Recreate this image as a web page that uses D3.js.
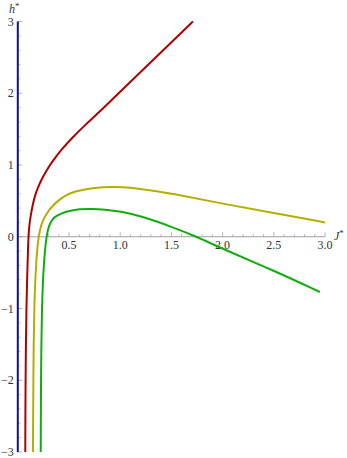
<!DOCTYPE html>
<html><head><meta charset="utf-8">
<script src="https://cdn.jsdelivr.net/npm/d3@7/dist/d3.min.js"></script>
<style>html,body{margin:0;padding:0;background:#fff}svg{display:block}</style>
</head><body><svg id="c" width="347" height="458"></svg>
<script>
// data
const redJ = [0.073,0.074,0.076,0.079,0.084,0.090,0.096,0.102,0.111,0.125,0.145,0.168,0.20,0.24,0.282,0.347,0.43,0.51,0.673,0.835,1.063,1.26,1.50,1.71];
const redH = [-3,-2.5,-2,-1.5,-1,-0.65,-0.35,-0.05,0.15,0.29,0.44,0.58,0.70,0.82,0.93,1.07,1.22,1.35,1.58,1.79,2.11,2.38,2.71,3.0];
const yelJ = [0.148,0.150,0.152,0.155,0.161,0.169,0.180,0.195,0.215,0.245,0.28,0.33,0.40,0.47,0.55,0.72,0.95,1.2,1.52,2.0,2.5,3.0];
const yelH = [-3,-2.5,-2,-1.5,-1,-0.65,-0.35,-0.08,0.10,0.23,0.32,0.42,0.51,0.58,0.63,0.68,0.70,0.67,0.60,0.46,0.33,0.20];
const grnJ = [0.224,0.225,0.227,0.230,0.236,0.244,0.256,0.272,0.292,0.32,0.36,0.43,0.50,0.60,0.72,0.85,1.0,1.2,1.52,1.75,2.0,2.5,2.95];
const grnH = [-3,-2.5,-2,-1.5,-1,-0.65,-0.35,-0.08,0.10,0.21,0.28,0.33,0.36,0.385,0.39,0.38,0.355,0.29,0.13,0,-0.17,-0.47,-0.77];
const xTicks = [0.5,1.0,1.5,2.0,2.5,3.0];
const xTickLabels = ["0.5","1.0","1.5","2.0","2.5","3.0"];
const yTicks = [-3,-2,-1,0,1,2,3];
const yTickLabels = ["\u22123","\u22122","\u22121","0","1","2","3"];
const series = [
  {J: redJ, H: redH, color: "#b00000"},
  {J: yelJ, H: yelH, color: "#b5ae00"},
  {J: grnJ, H: grnH, color: "#10ad10"}
];

const FONT = "Liberation Serif";
const svg = d3.select("#c");
const x = d3.scaleLinear().domain([0,3]).range([17.8,325]);
const y = d3.scaleLinear().domain([-3,3]).range([452,21.5]);

// x axis (gray) with ticks pointing up
const xMinor = d3.range(1,31).map(i=>i/10);
svg.append("line").attr("x1",x(0)).attr("x2",x(3)).attr("y1",y(0)).attr("y2",y(0))
  .attr("stroke","#a0a0a0").attr("stroke-width",1);
svg.selectAll(".xt").data(xMinor).enter().append("line")
  .attr("x1",d=>x(d)).attr("x2",d=>x(d))
  .attr("y1",y(0)).attr("y2",d=>y(0)-(Math.abs(d*2-Math.round(d*2))<1e-6?4.5:2.5))
  .attr("stroke","#a0a0a0").attr("stroke-width",0.8);
svg.selectAll(".xl").data(xTicks).enter().append("text")
  .attr("x",d=>x(d)).attr("y",y(0)+12).attr("text-anchor","middle")
  .style("font-family",FONT).attr("font-size",12).attr("fill","#333").text((d,i)=>xTickLabels[i]);

// y axis (blue) with ticks pointing right
const yMinor = d3.range(-15,16).map(i=>i/5);
svg.selectAll(".yt").data(yMinor).enter().append("line")
  .attr("x1",x(0)).attr("x2",d=>x(0)+(Math.abs(d-Math.round(d))<1e-6?4.5:2.5))
  .attr("y1",d=>y(d)).attr("y2",d=>y(d))
  .attr("stroke","#a0a0a0").attr("stroke-width",0.8);
svg.append("line").attr("x1",x(0)).attr("x2",x(0)).attr("y1",y(-3)).attr("y2",y(3))
  .attr("stroke","#1010a0").attr("stroke-width",2);
svg.selectAll(".yl").data(yTicks).enter().append("text")
  .attr("x",x(0)-4).attr("y",d=>y(d)+4).attr("text-anchor","end")
  .style("font-family",FONT).attr("font-size",12).attr("fill","#333").text((d,i)=>yTickLabels[i]);

// axis labels
const hl = svg.append("text").attr("x",9).attr("y",13).style("font-family",FONT).attr("font-size",12).attr("fill","#333");
hl.append("tspan").attr("font-style","italic").text("h");
hl.append("tspan").attr("dy",-4).attr("font-size",9).text("*");
const jl = svg.append("text").attr("x",x(3)+9).attr("y",y(0)+3).style("font-family",FONT).attr("font-size",12).attr("fill","#333");
jl.append("tspan").attr("font-style","italic").text("J");
jl.append("tspan").attr("dy",-4).attr("font-size",9).text("*");

// curves
const line = d3.line().x(d=>x(d[0])).y(d=>y(d[1])).curve(d3.curveBasis);
series.forEach(s=>{
  const pts = s.J.map((j,i)=>[j,s.H[i]]);
  svg.append("path").attr("d",line(pts)).attr("fill","none")
    .attr("stroke",s.color).attr("stroke-width",2);
});
</script></body></html>
